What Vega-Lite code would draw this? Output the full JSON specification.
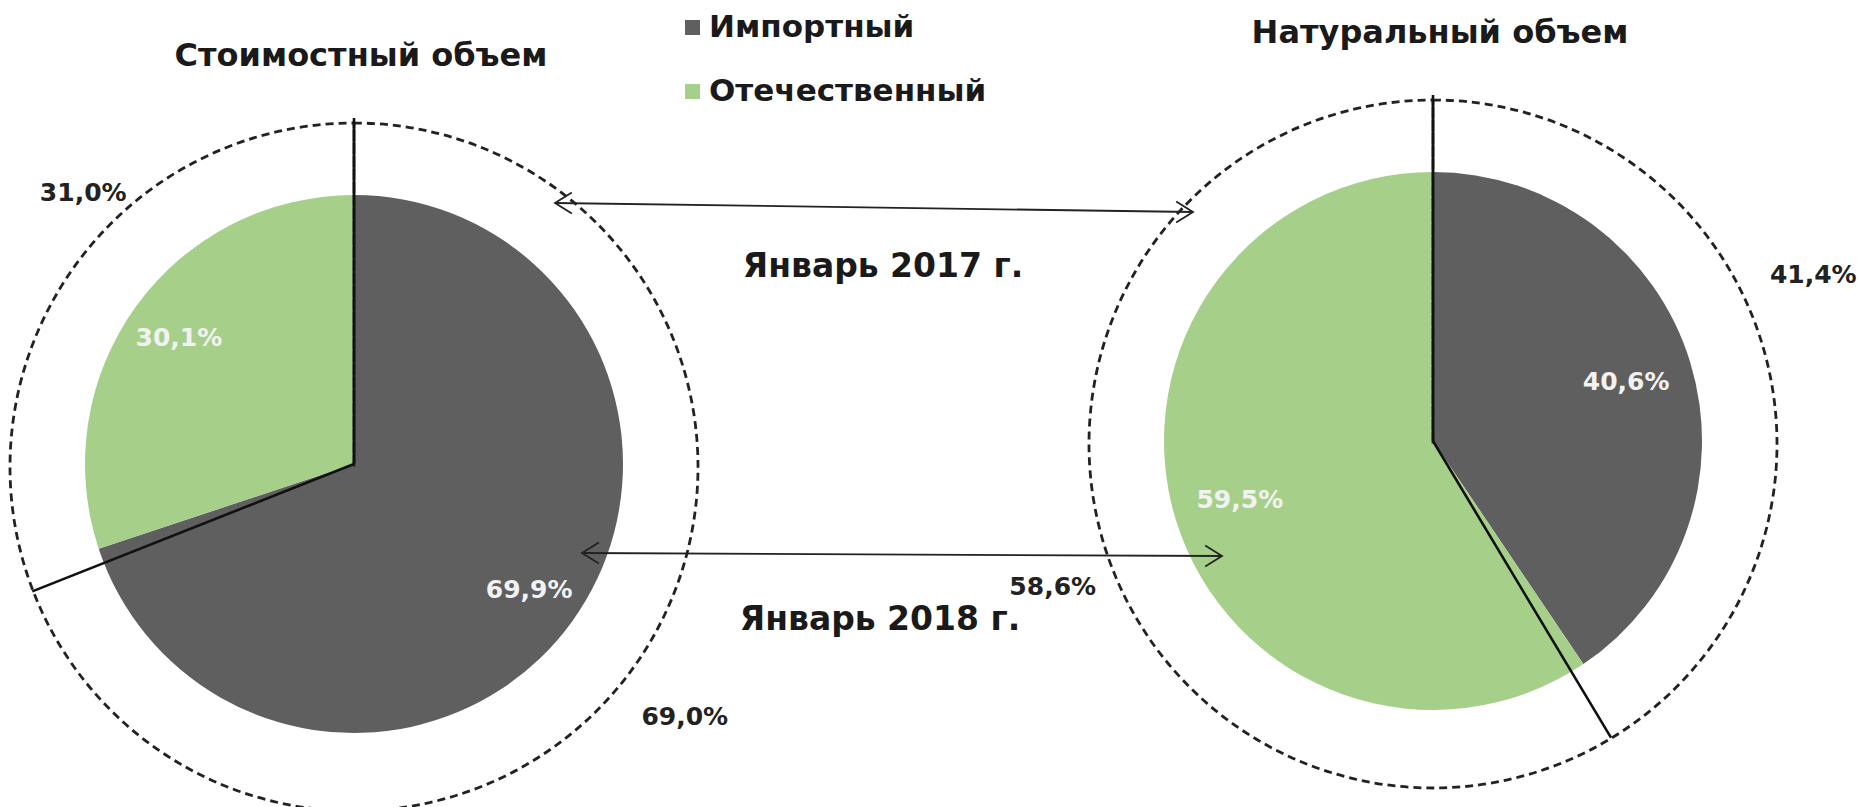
{
  "$schema": "https://vega.github.io/schema/vega-lite/v6.json",
  "width": 1859,
  "height": 807,
  "autosize": {"type": "none"},
  "padding": 0,
  "background": "white",
  "config": {
    "view": {"stroke": null},
    "locale": {"number": {"decimal": ",", "thousands": " ", "grouping": [3], "currency": ["", " руб."]}},
    "text": {"font": "DejaVu Sans"}
  },
  "datasets": {
    "shares": [
      {"chart": "Стоимостный объем", "year": "2018", "type": "Импортный", "value": 0.699},
      {"chart": "Стоимостный объем", "year": "2018", "type": "Отечественный", "value": 0.301},
      {"chart": "Стоимостный объем", "year": "2017", "type": "Импортный", "value": 0.690},
      {"chart": "Стоимостный объем", "year": "2017", "type": "Отечественный", "value": 0.310},
      {"chart": "Натуральный объем", "year": "2018", "type": "Импортный", "value": 0.406},
      {"chart": "Натуральный объем", "year": "2018", "type": "Отечественный", "value": 0.595},
      {"chart": "Натуральный объем", "year": "2017", "type": "Импортный", "value": 0.414},
      {"chart": "Натуральный объем", "year": "2017", "type": "Отечественный", "value": 0.586}
    ],
    "periods": [{"label": "Январь 2017 г."}, {"label": "Январь 2018 г."}]
  },
  "data": {"name": "shares"},
  "encoding": {
    "x": {"field": "chart", "type": "nominal", "scale": {"type": "point", "domain": ["Стоимостный объем", "Натуральный объем"], "range": [354, 1433], "padding": 0}, "axis": null},
    "y": {"field": "chart", "type": "nominal", "scale": {"type": "point", "domain": ["Стоимостный объем", "Натуральный объем"], "range": [464, 441], "padding": 0}, "axis": null}
  },
  "layer": [
    {
      "transform": [
        {"filter": "datum.year === '2018'"},
        {"stack": "value", "groupby": ["chart"], "offset": "normalize", "sort": [{"field": "type", "order": "ascending"}], "as": ["v0", "v1"]}
      ],
      "mark": {"type": "arc", "radius": 269},
      "encoding": {
        "theta": {"field": "v0", "type": "quantitative", "stack": null, "scale": {"domain": [0, 1], "range": [0, 6.283185307]}},
        "theta2": {"field": "v1"},
        "color": {
          "field": "type", "type": "nominal",
          "scale": {"domain": ["Импортный", "Отечественный"], "range": ["#5f5f5f", "#a6d08a"]},
          "legend": {"title": null, "orient": "none", "legendX": 677, "legendY": 12, "symbolType": "square", "symbolSize": 225, "symbolStrokeWidth": 0, "labelFont": "DejaVu Sans", "labelFontSize": 31, "labelFontWeight": "bold", "labelColor": "#1a1a1a", "labelLimit": 600, "rowPadding": 32, "labelOffset": 1, "padding": 0}
        }
      }
    },
    {
      "transform": [{"filter": "datum.year === '2017' && datum.type === 'Импортный'"}],
      "mark": {"type": "arc", "theta": 0, "theta2": 6.283185307, "radius": 344, "yOffset": 3, "filled": false, "stroke": "#222222", "strokeWidth": 2.8, "strokeDash": [8, 5]}
    },
    {
      "transform": [
        {"filter": "datum.year === '2017'"},
        {"stack": "value", "groupby": ["chart"], "offset": "normalize", "sort": [{"field": "type", "order": "ascending"}], "as": ["v0", "v1"]}
      ],
      "mark": {"type": "arc", "radius": 346, "filled": false, "stroke": "#111111", "strokeWidth": 2.6},
      "encoding": {
        "theta": {"field": "v0", "type": "quantitative", "stack": null, "scale": {"domain": [0, 1], "range": [0, 6.283185307]}},
        "theta2": {"field": "v0"}
      }
    },
    {
      "transform": [{"filter": "datum.year === '2018' && datum.chart === 'Стоимостный объем'"}],
      "mark": {"type": "text", "radius": 216, "font": "DejaVu Sans", "fontWeight": "bold", "fontSize": 25, "fill": "#f2f2f2"},
      "encoding": {
        "theta": {"field": "value", "type": "quantitative", "stack": "normalize", "scale": {"domain": [0, 1], "range": [0, 6.283185307]}},
        "detail": {"field": "type"},
        "order": {"field": "type", "sort": "ascending"},
        "text": {"field": "value", "format": ".1%"}
      }
    },
    {
      "transform": [{"filter": "datum.year === '2018' && datum.chart === 'Натуральный объем'"}],
      "mark": {"type": "text", "radius": 202, "font": "DejaVu Sans", "fontWeight": "bold", "fontSize": 25, "fill": "#f2f2f2"},
      "encoding": {
        "theta": {"field": "value", "type": "quantitative", "stack": "normalize", "scale": {"domain": [0, 1], "range": [0, 6.283185307]}},
        "detail": {"field": "type"},
        "order": {"field": "type", "sort": "ascending"},
        "text": {"field": "value", "format": ".1%"}
      }
    },
    {
      "transform": [{"filter": "datum.year === '2017' && datum.chart === 'Стоимостный объем'"}],
      "mark": {"type": "text", "radius": 399, "thetaOffset": 0.12, "dx": 30, "dy": -9, "font": "DejaVu Sans", "fontWeight": "bold", "fontSize": 25, "fill": "#222222"},
      "encoding": {
        "theta": {"field": "value", "type": "quantitative", "stack": "normalize", "scale": {"domain": [0, 1], "range": [0, 6.283185307]}},
        "detail": {"field": "type"},
        "order": {"field": "type", "sort": "ascending"},
        "text": {"field": "value", "format": ".1%"}
      }
    },
    {
      "transform": [{"filter": "datum.year === '2017' && datum.chart === 'Натуральный объем'"}],
      "mark": {"type": "text", "radius": 411, "thetaOffset": -0.119, "dy": -10, "font": "DejaVu Sans", "fontWeight": "bold", "fontSize": 25, "fill": "#222222"},
      "encoding": {
        "theta": {"field": "value", "type": "quantitative", "stack": "normalize", "scale": {"domain": [0, 1], "range": [0, 6.283185307]}},
        "detail": {"field": "type"},
        "order": {"field": "type", "sort": "ascending"},
        "text": {"field": "value", "format": ".1%"}
      }
    },
    {
      "transform": [{"filter": "datum.year === '2018' && datum.type === 'Импортный'"}],
      "mark": {"type": "text", "dy": -408, "dx": 7, "font": "DejaVu Sans", "fontWeight": "bold", "fontSize": 32, "fill": "#1a1a1a"},
      "encoding": {"text": {"field": "chart"}}
    },
    {
      "data": {"name": "periods"},
      "transform": [{"filter": "datum.label === 'Январь 2017 г.'"}],
      "mark": {"type": "rule", "stroke": "#222222", "strokeWidth": 1.8, "xOffset": 201, "yOffset": -261, "x2Offset": -240, "y2Offset": -229},
      "encoding": {
        "x": {"datum": "Стоимостный объем", "type": "nominal"},
        "x2": {"datum": "Натуральный объем"},
        "y": {"datum": "Стоимостный объем", "type": "nominal"},
        "y2": {"datum": "Натуральный объем"}
      }
    },
    {
      "data": {"name": "periods"},
      "transform": [{"filter": "datum.label === 'Январь 2017 г.'"}],
      "mark": {"type": "point", "shape": "M1.2,-0.75L0,0L1.2,0.75", "size": 784, "filled": false, "stroke": "#222222", "strokeWidth": 1.8, "opacity": 1, "xOffset": 201, "yOffset": -261},
      "encoding": {
        "x": {"datum": "Стоимостный объем", "type": "nominal"},
        "y": {"datum": "Стоимостный объем", "type": "nominal"}
      }
    },
    {
      "data": {"name": "periods"},
      "transform": [{"filter": "datum.label === 'Январь 2017 г.'"}],
      "mark": {"type": "point", "shape": "M-1.2,-0.75L0,0L-1.2,0.75", "size": 784, "filled": false, "stroke": "#222222", "strokeWidth": 1.8, "opacity": 1, "xOffset": -240, "yOffset": -229},
      "encoding": {
        "x": {"datum": "Натуральный объем", "type": "nominal"},
        "y": {"datum": "Натуральный объем", "type": "nominal"}
      }
    },
    {
      "data": {"name": "periods"},
      "transform": [{"filter": "datum.label === 'Январь 2018 г.'"}],
      "mark": {"type": "rule", "stroke": "#222222", "strokeWidth": 1.8, "xOffset": 228, "yOffset": 89, "x2Offset": -211, "y2Offset": 115},
      "encoding": {
        "x": {"datum": "Стоимостный объем", "type": "nominal"},
        "x2": {"datum": "Натуральный объем"},
        "y": {"datum": "Стоимостный объем", "type": "nominal"},
        "y2": {"datum": "Натуральный объем"}
      }
    },
    {
      "data": {"name": "periods"},
      "transform": [{"filter": "datum.label === 'Январь 2018 г.'"}],
      "mark": {"type": "point", "shape": "M1.2,-0.75L0,0L1.2,0.75", "size": 784, "filled": false, "stroke": "#222222", "strokeWidth": 1.8, "opacity": 1, "xOffset": 228, "yOffset": 89},
      "encoding": {
        "x": {"datum": "Стоимостный объем", "type": "nominal"},
        "y": {"datum": "Стоимостный объем", "type": "nominal"}
      }
    },
    {
      "data": {"name": "periods"},
      "transform": [{"filter": "datum.label === 'Январь 2018 г.'"}],
      "mark": {"type": "point", "shape": "M-1.2,-0.75L0,0L-1.2,0.75", "size": 784, "filled": false, "stroke": "#222222", "strokeWidth": 1.8, "opacity": 1, "xOffset": -211, "yOffset": 115},
      "encoding": {
        "x": {"datum": "Натуральный объем", "type": "nominal"},
        "y": {"datum": "Натуральный объем", "type": "nominal"}
      }
    },
    {
      "data": {"name": "periods"},
      "transform": [{"filter": "datum.label === 'Январь 2017 г.'"}],
      "mark": {"type": "text", "xOffset": 529, "yOffset": -197, "font": "DejaVu Sans", "fontWeight": "bold", "fontSize": 33, "fill": "#1a1a1a"},
      "encoding": {
        "x": {"datum": "Стоимостный объем", "type": "nominal"},
        "y": {"datum": "Стоимостный объем", "type": "nominal"},
        "text": {"field": "label"}
      }
    },
    {
      "data": {"name": "periods"},
      "transform": [{"filter": "datum.label === 'Январь 2018 г.'"}],
      "mark": {"type": "text", "xOffset": 526, "yOffset": 156, "font": "DejaVu Sans", "fontWeight": "bold", "fontSize": 33, "fill": "#1a1a1a"},
      "encoding": {
        "x": {"datum": "Стоимостный объем", "type": "nominal"},
        "y": {"datum": "Стоимостный объем", "type": "nominal"},
        "text": {"field": "label"}
      }
    }
  ]
}
